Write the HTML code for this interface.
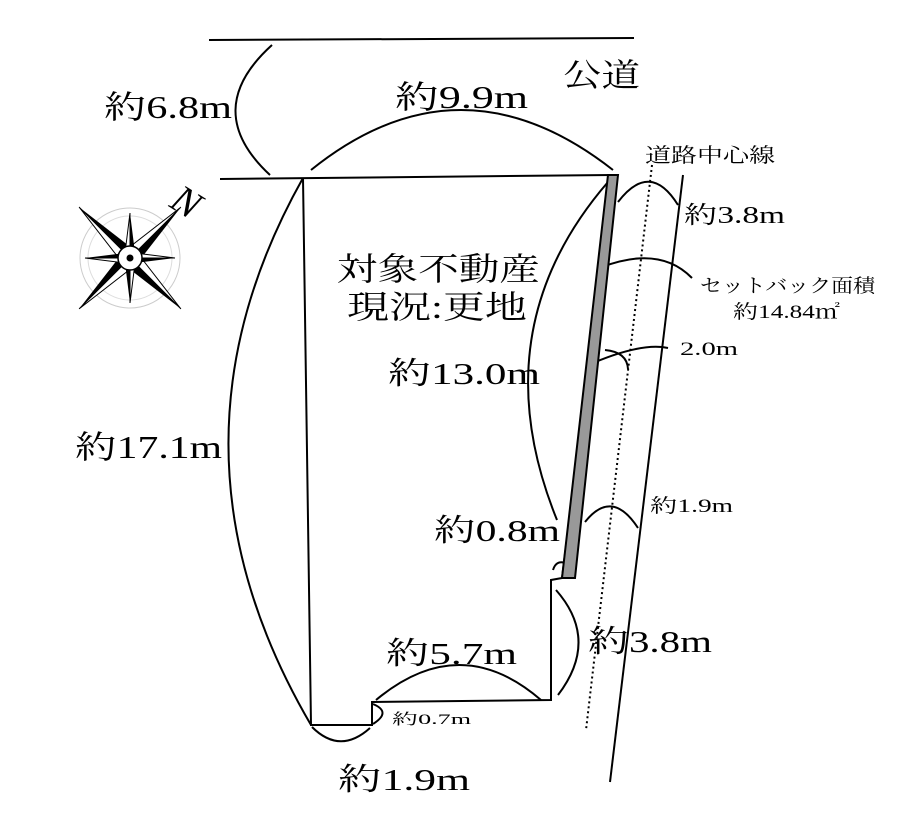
<!DOCTYPE html>
<html><head><meta charset="utf-8"><style>
html,body{margin:0;padding:0;background:#fff}
svg{display:block}
text{font-family:"Liberation Serif","Noto Serif CJK JP",serif;fill:#000}
</style></head><body>
<svg width="916" height="836" viewBox="0 0 916 836" xmlns="http://www.w3.org/2000/svg">
<g fill="none" stroke="#000" stroke-width="2">
<line x1="209" y1="40" x2="634" y2="38"/>
<line x1="220" y1="179" x2="612" y2="175"/>
<polyline points="612,175 562,578 551,580 551,700 372,702 372,725 311,725 303,178"/>
<line x1="683" y1="175" x2="610" y2="782"/>
<line x1="652" y1="165" x2="586" y2="730" stroke-dasharray="2,3"/>
<path d="M272,45 Q200,110 270,175"/>
<path d="M311,170 Q460,50 613,170"/>
<path d="M303,178 Q150,450 311,725"/>
<path d="M608,182 Q480,330 557,520"/>
<path d="M618,202 Q650,160 678,205"/>
<path d="M602,267 Q660,245 692,278"/>
<path d="M586,366 Q640,342 668,348"/>
<path d="M605,350 Q627,352 628,369"/>
<path d="M585,522 Q612,488 638,528"/>
<path d="M553,570 Q556,560 565,563"/>
<path d="M556,590 Q600,640 558,695"/>
<path d="M376,700 Q460,630 541,700"/>
<path d="M373,704 Q392,712 373,724"/>
<path d="M312,727 Q340,755 370,728"/>
</g>
<polygon points="608,175 618,175 575,578 562,578" fill="#999" stroke="#000" stroke-width="2"/>
<g transform="translate(130,258)">
<circle r="50" fill="none" stroke="#ccc" stroke-width="1"/>
<circle r="42" fill="none" stroke="#ddd" stroke-width="1"/>
<g transform="rotate(45)">
<polygon points="0,-72 8,-8 0,0" fill="#000"/>
<polygon points="0,-72 -8,-8 0,0" fill="#fff" stroke="#000"/>
<polygon points="72,0 8,8 0,0" fill="#000"/>
<polygon points="72,0 8,-8 0,0" fill="#fff" stroke="#000"/>
<polygon points="0,72 -8,8 0,0" fill="#000"/>
<polygon points="0,72 8,8 0,0" fill="#fff" stroke="#000"/>
<polygon points="-72,0 -8,-8 0,0" fill="#000"/>
<polygon points="-72,0 -8,8 0,0" fill="#fff" stroke="#000"/>
</g>
<polygon points="0,-45 5,-5 0,0" fill="#000"/><polygon points="0,-45 -5,-5 0,0" fill="#fff" stroke="#000"/>
<polygon points="45,0 5,5 0,0" fill="#000"/><polygon points="45,0 5,-5 0,0" fill="#fff" stroke="#000"/>
<polygon points="0,45 -5,5 0,0" fill="#000"/><polygon points="0,45 5,5 0,0" fill="#fff" stroke="#000"/>
<polygon points="-45,0 -5,-5 0,0" fill="#000"/><polygon points="-45,0 -5,5 0,0" fill="#fff" stroke="#000"/>
<circle r="12" fill="#fff" stroke="#000" stroke-width="1.5"/>
<circle r="3.5" fill="#000"/>
</g>
<text x="0" y="0" font-size="40" font-style="italic" transform="translate(168,206) rotate(32)">N</text>
<text x="563" y="86" font-size="32" textLength="77" lengthAdjust="spacingAndGlyphs">公道</text>
<text x="104" y="118" font-size="32" textLength="128" lengthAdjust="spacingAndGlyphs">約6.8m</text>
<text x="395" y="108" font-size="32" textLength="133" lengthAdjust="spacingAndGlyphs">約9.9m</text>
<text x="645" y="162" font-size="20" textLength="130" lengthAdjust="spacingAndGlyphs">道路中心線</text>
<text x="684" y="223" font-size="24" textLength="101" lengthAdjust="spacingAndGlyphs">約3.8m</text>
<text x="700" y="292" font-size="19" textLength="175" lengthAdjust="spacingAndGlyphs">セットバック面積</text>
<text x="733" y="318" font-size="19" textLength="107" lengthAdjust="spacingAndGlyphs">約14.84㎡</text>
<text x="680" y="355" font-size="19" textLength="58" lengthAdjust="spacingAndGlyphs">2.0m</text>
<text x="337" y="280" font-size="32" textLength="203" lengthAdjust="spacingAndGlyphs">対象不動産</text>
<text x="347" y="318" font-size="32" textLength="180" lengthAdjust="spacingAndGlyphs">現況:更地</text>
<text x="388" y="384" font-size="31" textLength="152" lengthAdjust="spacingAndGlyphs">約13.0m</text>
<text x="75" y="458" font-size="32" textLength="147" lengthAdjust="spacingAndGlyphs">約17.1m</text>
<text x="650" y="512" font-size="19" textLength="83" lengthAdjust="spacingAndGlyphs">約1.9m</text>
<text x="434" y="541" font-size="31" textLength="126" lengthAdjust="spacingAndGlyphs">約0.8m</text>
<text x="588" y="652" font-size="31" textLength="124" lengthAdjust="spacingAndGlyphs">約3.8m</text>
<text x="386" y="664" font-size="31" textLength="131" lengthAdjust="spacingAndGlyphs">約5.7m</text>
<text x="392" y="724" font-size="15" textLength="79" lengthAdjust="spacingAndGlyphs">約0.7m</text>
<text x="338" y="790" font-size="31" textLength="132" lengthAdjust="spacingAndGlyphs">約1.9m</text>
</svg>
</body></html>
